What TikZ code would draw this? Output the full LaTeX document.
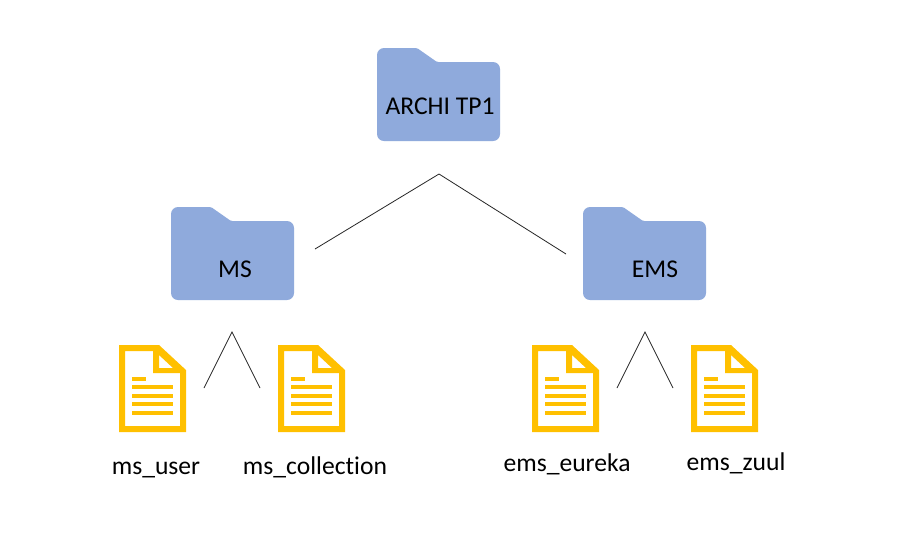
\documentclass[tikz,border=0pt]{standalone}
\usepackage{fontspec}
\setmainfont[RawFeature={-liga;-clig;-dlig}]{Carlito}
\definecolor{folderblue}{HTML}{8FAADC}
\definecolor{fileamber}{HTML}{FFC000}
\tikzset{
  x=0.75pt,y=-0.75pt,
  label text/.style={font=\fontsize{19.2}{23}\selectfont,text=black,inner sep=0pt,anchor=base},
  link/.style={draw=black!85,line width=0.6pt,line join=miter},
  folder/.pic={
    \fill[folderblue,rounded corners=5.25pt] (0,46) -- (0,0) -- (20,0) [rounded corners=1pt] -- (40,0) -- (60,14) -- (80,14) [rounded corners=5.25pt] -- (123,14) -- (123,93) -- (0,93) -- cycle;
  },
  docfile/.pic={
    \fill[fileamber,even odd rule] (0,0) -- (40,0) -- (67,25) -- (67,87) -- (0,87) -- cycle
      (6,6) -- (34,6) -- (34,28) -- (61,28) -- (61,81) -- (6,81) -- cycle
      (40,10) -- (40,23) -- (54,23) -- cycle;
    \fill[fileamber] (13,32) rectangle (27,36);
    \foreach \ly in {40,49,57,66} \fill[fileamber] (13,\ly) rectangle (54,\ly+4);
  }
}
\begin{document}
\begin{tikzpicture}
\useasboundingbox (0,0) rectangle (912,537);
\fill[white] (0,0) rectangle (912,537);
\pic at (377,48) {folder};
\pic at (171,207) {folder};
\pic at (583,207) {folder};
\pic at (119,345) {docfile};
\pic at (278,345) {docfile};
\pic at (532,345) {docfile};
\pic at (691,345) {docfile};
\node[label text] (archi) at (440,114) {ARCHI TP1};
\node[label text] (ms) at (235,277) {MS};
\node[label text] (ems) at (655,277) {EMS};
\node[label text] (msuser) at (156,474) {ms\_user};
\node[label text] (mscoll) at (315,474) {ms\_collection};
\node[label text] (emseureka) at (567,471) {ems\_eureka};
\node[label text] (emszuul) at (736,470) {ems\_zuul};
\coordinate (t1) at (315,249);
\coordinate (t2) at (439,174);
\coordinate (t3) at (566,254);
\coordinate (a1) at (204,388);
\coordinate (a2) at (232,332);
\coordinate (a3) at (260,388);
\coordinate (b1) at (617,388);
\coordinate (b2) at (645,332);
\coordinate (b3) at (673,388);
\draw[link] (t1) -- (t2) -- (t3);
\draw[link] (a1) -- (a2) -- (a3);
\draw[link] (b1) -- (b2) -- (b3);
\end{tikzpicture}
\end{document}
